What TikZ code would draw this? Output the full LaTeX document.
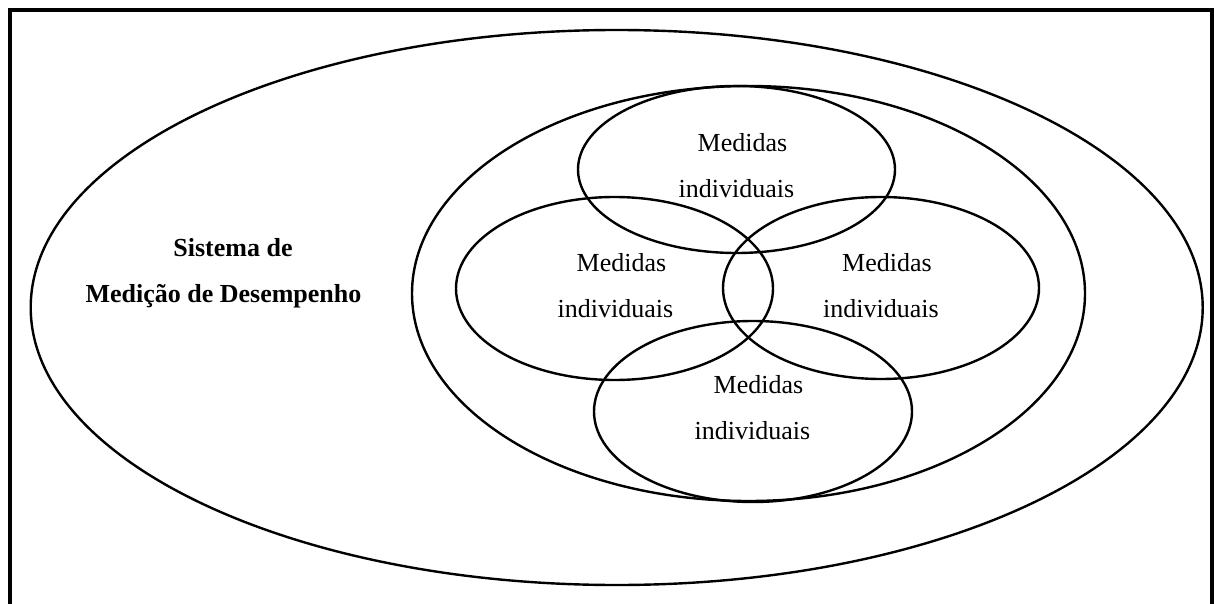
\documentclass[tikz,border=0pt]{standalone}
\usepackage{fontspec}
\setmainfont{Liberation Serif}
\begin{document}
\begin{tikzpicture}[x=1pt,y=-1pt,
  ring/.style={draw=black,line width=2.4pt},
  txt/.style={align=center,font=\fontsize{26}{46}\selectfont,inner sep=0pt,text=black}]
\useasboundingbox (0,0) rectangle (1214,604);
% open frame
\draw[line width=4pt] (9.5,604) -- (9.5,10) -- (1212,10) -- (1212,604);
% system and inner set
\draw[ring] (616.7,307.5) ellipse [x radius=586, y radius=277.5];
\draw[ring] (748.5,293.5) ellipse [x radius=336.5, y radius=207.5];
% four individual measures
\draw[ring] (736.5,169.5) ellipse [x radius=158.5, y radius=83.5];
\draw[ring] (614.5,288.5) ellipse [x radius=158.5, y radius=91.5];
\draw[ring] (881,288) ellipse [x radius=158, y radius=91];
\draw[ring] (753,411.5) ellipse [x radius=159, y radius=90.5];
% texts
\node[txt,font=\fontsize{26}{46}\selectfont\bfseries] (sis) at (223.5,272.8)
  {\hspace*{19pt}Sistema de\\Medição de Desempenho};
\node[txt] (mtop) at (736.5,165.7) {\hspace*{12pt}Medidas\\individuais};
\node[txt] (mleft) at (615.5,285.7) {\hspace*{12pt}Medidas\\individuais};
\node[txt] (mright) at (881,285.9) {\hspace*{12pt}Medidas\\individuais};
\node[txt] (mbot) at (752.5,407.3) {\hspace*{12pt}Medidas\\individuais};
\end{tikzpicture}
\end{document}
